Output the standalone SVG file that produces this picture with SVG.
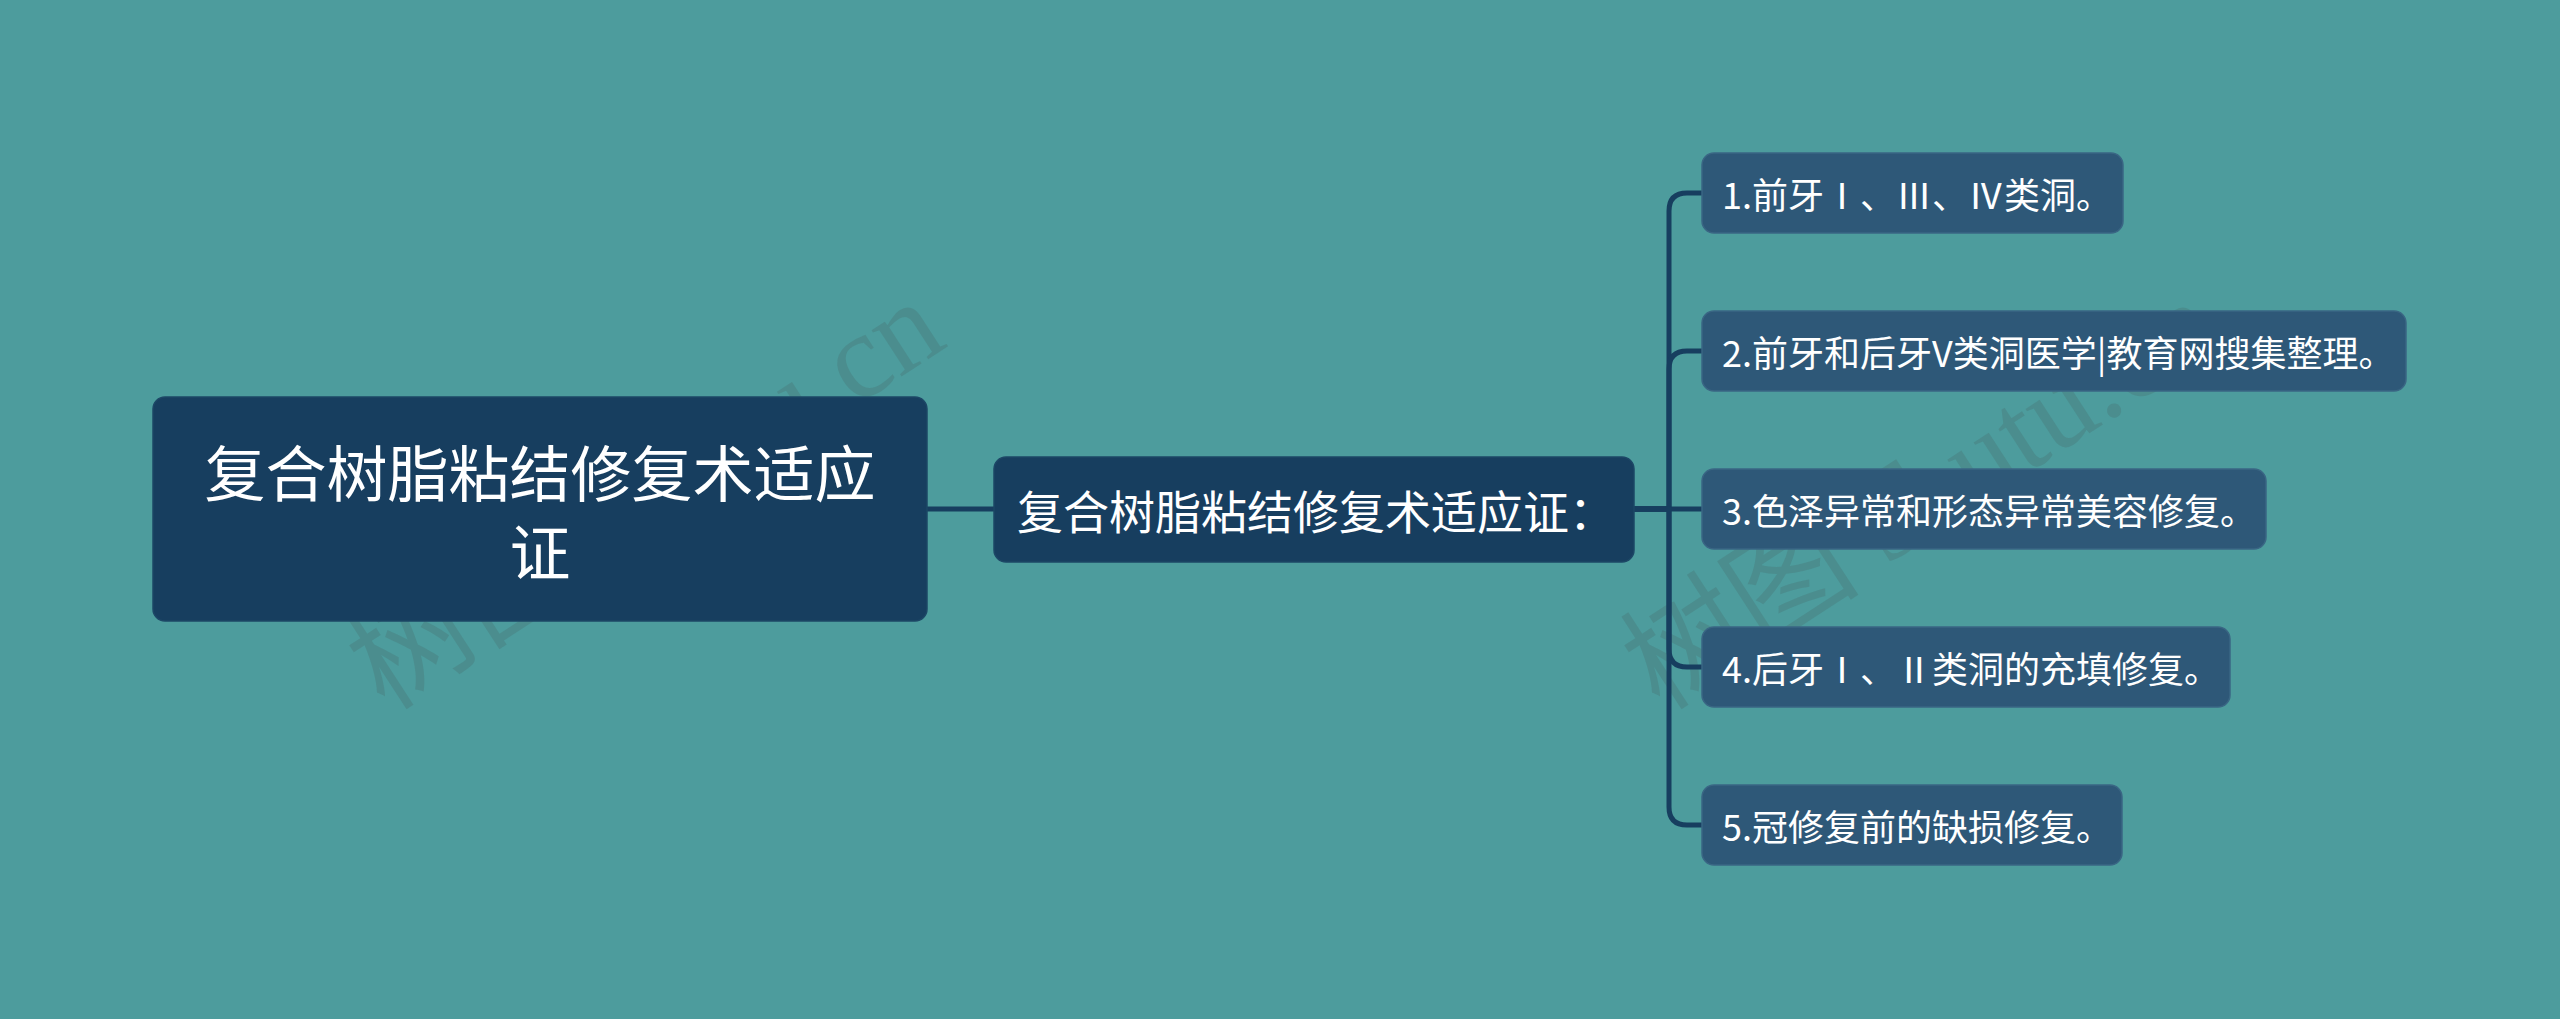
<svg xmlns="http://www.w3.org/2000/svg" width="2560" height="1019" viewBox="0 0 2560 1019">
<style>
.bg{fill:#4d9c9d}
.dark{fill:#173e5f;stroke:#1d4766;stroke-width:1.5}
.leaf{fill:#2e5878;stroke:#3a6684;stroke-width:1.5}
.t{fill:#ffffff;font-family:"Noto Sans CJK SC","Microsoft YaHei",sans-serif;dominant-baseline:central}
.conn{fill:none;stroke:#173e5f;stroke-width:5;stroke-linecap:round;stroke-linejoin:round}
.wm{fill:#4a7c7c;fill-opacity:0.45;font-family:"Liberation Serif","Noto Sans CJK SC",serif;font-size:120px}
</style>
<rect class="bg" x="0" y="0" width="2560" height="1019"/>
<g id="watermarks">
<text class="wm" transform="translate(385,712) rotate(-33)">树图 shutu.cn</text>
<text class="wm" transform="translate(1660,712) rotate(-33)">树图 shutu.cn</text>
</g>
<g id="connectors">
<path class="conn" d="M927,509 H994"/>
<path class="conn" d="M1634,509 H1669 V211 Q1669,193 1687,193 H1702"/>
<path class="conn" d="M1634,509 H1669 V369 Q1669,351 1687,351 H1702"/>
<path class="conn" d="M1634,509 H1702"/>
<path class="conn" d="M1634,509 H1669 V649 Q1669,667 1687,667 H1702"/>
<path class="conn" d="M1634,509 H1669 V807 Q1669,825 1687,825 H1702"/>
</g>
<g id="root">
<rect class="dark" x="153" y="397" width="774" height="224" rx="12"/>
<text class="t" x="540" y="470" font-size="61" text-anchor="middle">复合树脂粘结修复术适应</text>
<text class="t" x="540" y="549" font-size="61" text-anchor="middle">证</text>
</g>
<g id="middle">
<rect class="dark" x="994" y="457" width="640" height="105" rx="12"/>
<text class="t" x="1017" y="509" font-size="46">复合树脂粘结修复术适应证：</text>
</g>
<g id="leaf1">
<rect class="leaf" x="1702" y="153" width="421" height="80" rx="12"/>
<text class="t" x="1722" y="193" font-size="36">1.前牙Ⅰ、Ⅲ、Ⅳ类洞。</text>
</g>
<g id="leaf2">
<rect class="leaf" x="1702" y="311" width="704" height="80" rx="12"/>
<text class="t" x="1722" y="351" font-size="36">2.前牙和后牙V类洞医学|教育网搜集整理。</text>
</g>
<g id="leaf3">
<rect class="leaf" x="1702" y="469" width="564" height="80" rx="12"/>
<text class="t" x="1722" y="509" font-size="36">3.色泽异常和形态异常美容修复。</text>
</g>
<g id="leaf4">
<rect class="leaf" x="1702" y="627" width="528" height="80" rx="12"/>
<text class="t" x="1722" y="667" font-size="36">4.后牙Ⅰ、Ⅱ类洞的充填修复。</text>
</g>
<g id="leaf5">
<rect class="leaf" x="1702" y="785" width="420" height="80" rx="12"/>
<text class="t" x="1722" y="825" font-size="36">5.冠修复前的缺损修复。</text>
</g>
</svg>
